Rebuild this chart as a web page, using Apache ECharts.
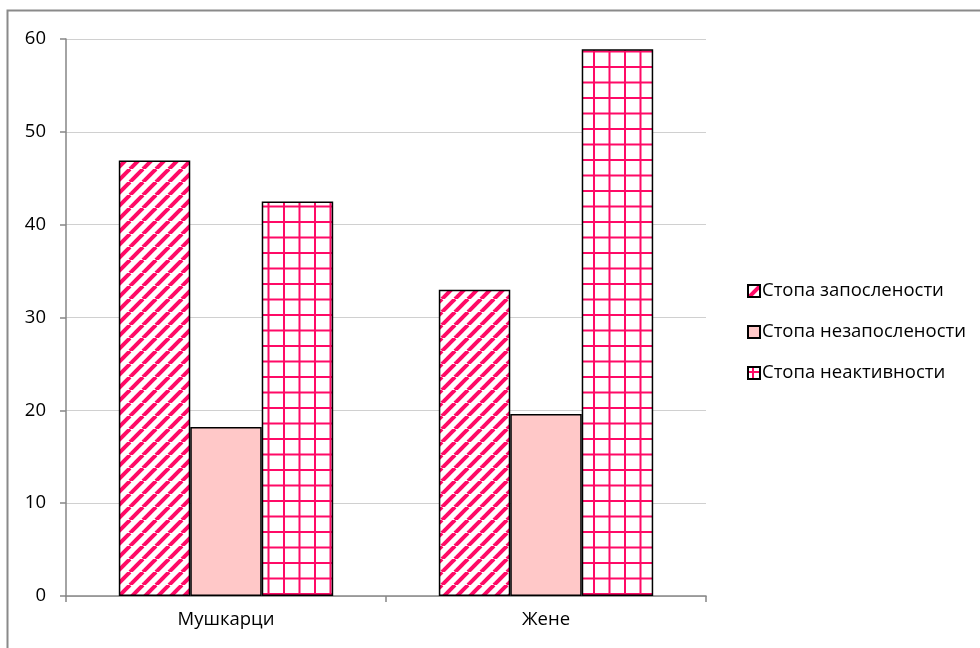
<!DOCTYPE html>
<html><head><meta charset="utf-8">
<script src="https://cdn.jsdelivr.net/npm/echarts@6/dist/echarts.min.js"></script>
<style>html,body{margin:0;padding:0;background:#fff}#c{width:980px;height:648px}</style>
</head><body><div id="c"></div>
<script>
const categories = ['Мушкарци', 'Жене'];
const seriesNames = ['Стопа запослености', 'Стопа незапослености', 'Стопа неактивности'];
const employment = [46.9, 33.0];
const unemployment = [18.2, 19.6];
const inactivity = [42.5, 58.9];
const yTicks = [0, 10, 20, 30, 40, 50, 60];

const PINK = '#ff0a66';
function stripePattern() {
  const s = 13, c = document.createElement('canvas');
  c.width = s; c.height = s;
  const g = c.getContext('2d');
  g.fillStyle = '#fff'; g.fillRect(0, 0, s, s);
  g.strokeStyle = PINK; g.lineWidth = 4;
  for (const o of [-s, 0, s]) {
    g.beginPath(); g.moveTo(o, s); g.lineTo(o + s, 0); g.stroke();
  }
  return c;
}
function gridPattern() {
  const s = 31, c = document.createElement('canvas');
  c.width = s; c.height = s;
  const g = c.getContext('2d');
  g.fillStyle = '#fff'; g.fillRect(0, 0, s, s);
  g.fillStyle = PINK;
  for (const p of [4, 19.5]) {
    g.fillRect(p, 0, 2, s);
    g.fillRect(0, p, s, 2);
  }
  return c;
}

const FONT = 'Open Sans';
const FS = 18.5;
const chart = echarts.init(document.getElementById('c'), null, {renderer: 'canvas'});
const barStyle = (color) => ({color: color, borderColor: '#000', borderWidth: 1.5});
chart.setOption({
  animation: false,
  backgroundColor: '#fff',
  textStyle: {fontFamily: FONT},
  graphic: [{
    type: 'rect', shape: {x: 7.5, y: 10.5, width: 1000, height: 700},
    style: {fill: 'none', stroke: '#8a8a8a', lineWidth: 2}, z: -1
  }],
  grid: {left: 66, right: 274, top: 39, bottom: 52},
  legend: {
    orient: 'vertical', left: 747, top: 281, padding: 0,
    itemWidth: 12, itemHeight: 12, itemGap: 21,
    icon: 'rect',
    textStyle: {fontFamily: FONT, fontSize: FS, lineHeight: 20, color: '#000', padding: [0, 0, 0, -3]},
    data: seriesNames
  },
  xAxis: {
    type: 'category', data: categories,
    axisLine: {lineStyle: {color: '#868686', width: 1.5}},
    axisTick: {show: true, length: 6, lineStyle: {color: '#868686', width: 1.5}},
    axisLabel: {color: '#000', fontSize: FS, fontFamily: FONT, margin: 14}
  },
  yAxis: {
    type: 'value', min: yTicks[0], max: yTicks[yTicks.length - 1], interval: 10,
    axisLine: {show: true, lineStyle: {color: '#868686', width: 1.5}},
    axisTick: {show: true, length: 6, lineStyle: {color: '#868686', width: 1.5}},
    axisLabel: {color: '#000', fontSize: FS, fontFamily: FONT, margin: 20},
    splitLine: {lineStyle: {color: '#d0d0d0', width: 1}}
  },
  series: [
    {name: seriesNames[0], type: 'bar', data: employment, barGap: '0%', barCategoryGap: '33%',
     itemStyle: barStyle({image: stripePattern(), repeat: 'repeat'})},
    {name: seriesNames[1], type: 'bar', data: unemployment,
     itemStyle: barStyle('#ffc8c8')},
    {name: seriesNames[2], type: 'bar', data: inactivity,
     itemStyle: barStyle({image: gridPattern(), repeat: 'repeat'})}
  ]
});
</script></body></html>
